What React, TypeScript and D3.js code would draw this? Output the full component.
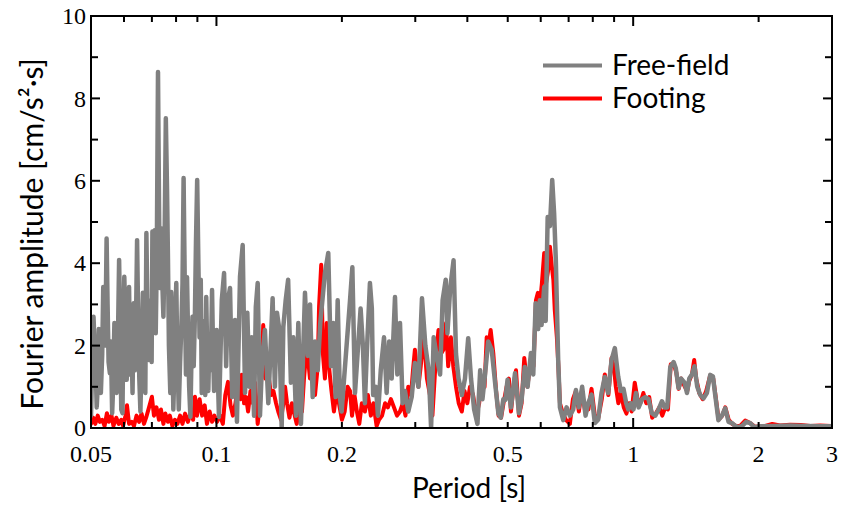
import React from 'react';
import * as d3 from 'd3';

const width = 843, height = 514;
const margin = { top: 16, right: 11, bottom: 86, left: 91 };

// Free-field spectrum
const freeFieldPeriod = [
  0.0500, 0.0504, 0.0507, 0.0510, 0.0513, 0.0516, 0.0519, 0.0522, 0.0525, 0.0528,
  0.0532, 0.0535, 0.0539, 0.0541, 0.0545, 0.0548, 0.0551, 0.0555, 0.0558, 0.0562,
  0.0565, 0.0569, 0.0572, 0.0576, 0.0580, 0.0584, 0.0588, 0.0591, 0.0595, 0.0598,
  0.0601, 0.0605, 0.0609, 0.0613, 0.0617, 0.0621, 0.0625, 0.0629, 0.0633, 0.0637,
  0.0641, 0.0645, 0.0649, 0.0653, 0.0657, 0.0662, 0.0666, 0.0671, 0.0675, 0.0679,
  0.0683, 0.0688, 0.0692, 0.0696, 0.0699, 0.0702, 0.0706, 0.0711, 0.0715, 0.0719,
  0.0724, 0.0728, 0.0731, 0.0736, 0.0740, 0.0746, 0.0750, 0.0756, 0.0761, 0.0765,
  0.0769, 0.0775, 0.0779, 0.0784, 0.0788, 0.0793, 0.0797, 0.0801, 0.0805, 0.0812,
  0.0818, 0.0824, 0.0829, 0.0834, 0.0840, 0.0845, 0.0850, 0.0855, 0.0860, 0.0866,
  0.0871, 0.0876, 0.0882, 0.0888, 0.0893, 0.0899, 0.0905, 0.0911, 0.0917, 0.0922,
  0.0929, 0.0935, 0.0940, 0.0945, 0.0950, 0.0956, 0.0962, 0.0969, 0.0976, 0.0981,
  0.0987, 0.0993,
  0.1001, 0.1014, 0.1030, 0.1043,
  0.1055, 0.1065, 0.1078, 0.1091, 0.1108, 0.1120, 0.1139, 0.1156, 0.1171, 0.1186,
  0.1200, 0.1215, 0.1231, 0.1243, 0.1256, 0.1272, 0.1288, 0.1307, 0.1332, 0.1364,
  0.1381, 0.1397, 0.1415, 0.1434, 0.1447, 0.1466, 0.1486, 0.1509, 0.1529, 0.1552,
  0.1572, 0.1595, 0.1631, 0.1656, 0.1677, 0.1702, 0.1724, 0.1750, 0.1775, 0.1821,
  0.1855, 0.1883, 0.1906, 0.1932, 0.1954, 0.1978, 0.1997, 0.2035, 0.2092, 0.2119,
  0.2150, 0.2181, 0.2218, 0.2246, 0.2271, 0.2297, 0.2335, 0.2360, 0.2377, 0.2414,
  0.2441, 0.2479, 0.2524, 0.2561, 0.2597, 0.2633, 0.2682, 0.2717, 0.2757, 0.2797,
  0.2834, 0.2886, 0.2941, 0.2994, 0.3052, 0.3113, 0.3172, 0.3231, 0.3274, 0.3321,
  0.3382, 0.3441, 0.3489, 0.3550, 0.3583, 0.3639, 0.3707, 0.3757, 0.3810, 0.3880,
  0.3948, 0.4019, 0.4082, 0.4153, 0.4230, 0.4294, 0.4348, 0.4411, 0.4488, 0.4576,
  0.4663, 0.4749, 0.4812, 0.4880, 0.4935, 0.4995, 0.5090, 0.5205, 0.5321, 0.5398,
  0.5494, 0.5580, 0.5685, 0.5758, 0.5834, 0.5917, 0.5971, 0.6028, 0.6117, 0.6166,
  0.6235, 0.6314, 0.6393, 0.6462, 0.6522, 0.6608, 0.6672, 0.6795, 0.6922, 0.7048,
  0.7180, 0.7288, 0.7408, 0.7543, 0.7688, 0.7799, 0.7944, 0.8091, 0.8241, 0.8395,
  0.8549, 0.8709, 0.8874, 0.9036, 0.9204, 0.9342, 0.9480, 0.9624, 0.9736, 0.9888,
  1.0017, 1.0156, 1.0307, 1.0504, 1.0695, 1.0884, 1.1089, 1.1299, 1.1510, 1.1726,
  1.1892, 1.2069, 1.2276, 1.2503, 1.2655, 1.2848, 1.3037, 1.3284, 1.3463, 1.3634,
  1.3836, 1.4032, 1.4248, 1.4488, 1.4752, 1.5026, 1.5308, 1.5538, 1.5735, 1.6017,
  1.6330, 1.6633, 1.6936, 1.7260, 1.7577, 1.7894, 1.8265, 1.8673, 1.9086, 1.9516,
  2.0173, 2.1908, 2.3809, 2.5862, 2.8088, 2.9855,
];
const freeFieldAmp = [
  0.30, 1.80, 2.70, 2.00, 1.50, 0.50, 1.00, 2.40, 2.20, 0.85,
  1.80, 3.42, 2.60, 2.00, 4.60, 3.00, 1.60, 1.33, 2.10, 0.36,
  1.00, 2.55, 1.50, 0.85, 2.00, 4.08, 2.20, 0.45, 0.36, 2.50,
  3.67, 2.50, 1.17, 2.60, 3.42, 1.30, 2.20, 0.85, 3.03, 1.40,
  2.50, 4.56, 2.60, 1.20, 0.40, 2.00, 3.28, 1.50, 0.85, 4.73,
  2.80, 1.65, 2.40, 3.10, 1.60, 4.77, 3.50, 4.80, 2.30, 4.00,
  8.64, 5.50, 3.40, 4.85, 3.80, 2.70, 4.00, 7.52, 5.80, 4.10,
  2.00, 0.85, 3.30, 2.00, 0.45, 1.50, 2.80, 3.52, 1.90, 0.45,
  1.60, 2.50, 3.50, 6.07, 3.20, 1.30, 3.66, 2.20, 1.00, 0.27,
  1.70, 2.70, 1.50, 2.80, 4.50, 6.02, 4.00, 2.20, 3.60, 0.85,
  1.40, 2.60, 0.80, 3.18, 1.90, 0.90, 2.20, 1.40, 3.35, 2.00,
  0.90, 1.65,
  2.38, 0.27, 3.10, 3.76,
  1.50, 3.10, 3.40, 0.75, 2.62, 0.15, 3.67, 4.44, 0.85, 2.80,
  1.00, 2.20, 0.30, 2.94, 3.52, 0.30, 1.72, 2.38, 0.60, 3.15,
  1.00, 2.80, 2.40, 0.00, 2.45, 3.10, 3.60, 1.10, 2.20, 0.30,
  2.55, 0.10, 3.28, 1.75, 3.00, 0.75, 2.10, 1.40, 2.55, 3.76,
  4.25, 1.50, 2.55, 0.75, 3.10, 0.75, 0.40, 1.50, 3.10, 3.90,
  0.85, 1.80, 2.90, 2.00, 0.60, 1.90, 3.52, 2.90, 0.80, 1.00,
  0.30, 1.40, 2.20, 0.85, 2.10, 1.20, 3.18, 1.30, 2.55, 0.60,
  0.90, 0.40, 0.75, 1.58, 1.00, 3.15, 2.00, 1.40, 0.00, 2.20,
  1.70, 1.30, 3.10, 3.60, 2.30, 3.40, 4.07, 1.80, 1.20, 0.80,
  1.20, 2.18, 1.20, 0.45, 0.10, 1.40, 0.70, 1.30, 2.10, 1.90,
  1.10, 0.35, 0.25, 0.70, 0.68, 1.17, 0.50, 1.33, 0.36, 0.68,
  1.48, 1.00, 1.82, 1.30, 3.03, 2.40, 3.10, 2.50, 3.42, 2.60,
  5.12, 4.90, 6.02, 5.20, 4.08, 1.65, 0.50, 0.19, 0.50, 0.30,
  0.45, 0.92, 0.50, 1.00, 0.30, 0.60, 0.81, 0.12, 0.20, 0.85,
  1.24, 0.85, 1.65, 1.94, 1.25, 0.90, 0.95, 0.60, 0.45, 0.60,
  0.45, 0.85, 0.50, 0.70, 0.75, 0.70, 0.36, 0.30, 0.45, 0.65,
  0.50, 0.50, 1.48, 1.60, 1.45, 0.97, 1.20, 1.10, 0.85, 1.20,
  1.30, 1.50, 1.00, 0.80, 0.72, 0.85, 1.29, 1.25, 0.80, 0.19,
  0.30, 0.48, 0.15, 0.12, 0.05, 0.02, 0.05, 0.15, 0.12, 0.02,
  0.04, 0.05, 0.06, 0.05, 0.04, 0.04,
];

// Footing spectrum
const footingPeriod = [
  0.0500, 0.0506, 0.0512, 0.0519, 0.0525, 0.0532, 0.0539, 0.0546, 0.0552, 0.0560,
  0.0566, 0.0575, 0.0583, 0.0591, 0.0597, 0.0605, 0.0610, 0.0617, 0.0626, 0.0634,
  0.0643, 0.0652, 0.0661, 0.0670, 0.0678, 0.0689, 0.0700, 0.0708, 0.0718, 0.0728,
  0.0736, 0.0746, 0.0754, 0.0765, 0.0773, 0.0784, 0.0795, 0.0806, 0.0818, 0.0829,
  0.0841, 0.0854, 0.0869, 0.0879, 0.0888, 0.0898, 0.0911, 0.0924, 0.0937, 0.0949,
  0.0963, 0.0976, 0.0989, 0.1003, 0.1020, 0.1036, 0.1050, 0.1066, 0.1081, 0.1095,
  0.1111, 0.1127, 0.1143, 0.1150, 0.1165, 0.1178, 0.1191, 0.1207, 0.1224, 0.1238,
  0.1256, 0.1272, 0.1285, 0.1295, 0.1311, 0.1332, 0.1353, 0.1370, 0.1390, 0.1407,
  0.1429, 0.1447, 0.1461, 0.1477, 0.1497, 0.1517, 0.1537, 0.1558, 0.1582, 0.1604,
  0.1622, 0.1647, 0.1677, 0.1700, 0.1724, 0.1750, 0.1763, 0.1784, 0.1801, 0.1821,
  0.1839, 0.1862, 0.1888, 0.1914, 0.1943, 0.1968, 0.2000, 0.2031, 0.2064, 0.2092,
  0.2115, 0.2144, 0.2173, 0.2202, 0.2233, 0.2271, 0.2309, 0.2347, 0.2380, 0.2423,
  0.2455, 0.2497, 0.2539, 0.2579, 0.2622, 0.2667, 0.2712, 0.2757, 0.2801, 0.2842,
  0.2886, 0.2930, 0.2962, 0.2994, 0.3052, 0.3092, 0.3142, 0.3200, 0.3254, 0.3298,
  0.3343, 0.3382, 0.3411, 0.3458, 0.3504, 0.3556, 0.3598, 0.3653, 0.3701, 0.3757,
  0.3814, 0.3880, 0.3938, 0.4000, 0.4059, 0.4129, 0.4200, 0.4270, 0.4333, 0.4399,
  0.4451, 0.4498, 0.4550, 0.4618, 0.4689, 0.4754, 0.4820, 0.4885, 0.4969, 0.5032,
  0.5090, 0.5176, 0.5234, 0.5321, 0.5398, 0.5479, 0.5574, 0.5685, 0.5765, 0.5844,
  0.5907, 0.5971, 0.6038, 0.6117, 0.6176, 0.6245, 0.6314, 0.6383, 0.6434, 0.6485,
  0.6560, 0.6615, 0.6672, 0.6783, 0.6896, 0.7048, 0.7168, 0.7288, 0.7408, 0.7530,
  0.7658, 0.7808, 0.7944, 0.8091, 0.8250, 0.8409, 0.8549, 0.8719, 0.8874, 0.8985,
  0.9087, 0.9214, 0.9342, 0.9495, 0.9635, 0.9775, 0.9916, 1.0087, 1.0242, 1.0401,
  1.0579, 1.0752, 1.0927, 1.1108, 1.1330, 1.1554, 1.1745, 1.1945, 1.2117, 1.2310,
  1.2517, 1.2690, 1.2862, 1.3037, 1.3299, 1.3485, 1.3634, 1.3836, 1.4008, 1.4168,
  1.4408, 1.4688, 1.4970, 1.5308, 1.5564, 1.5778, 1.6036, 1.6358, 1.6633, 1.6954,
  1.7289, 1.7673, 1.8061, 1.8570, 1.9086, 1.9624, 2.0751, 2.1561, 2.2509, 2.3809,
  2.5241, 2.6634, 2.8088, 2.9855,
];
const footingAmp = [
  0.10, 0.25, 0.10, 0.30, 0.15, 0.20, 0.05, 0.36, 0.15, 0.30,
  0.05, 0.25, 0.10, 0.20, 0.05, 0.30, 0.55, 0.10, 0.15, 0.05,
  0.30, 0.15, 0.35, 0.10, 0.25, 0.50, 0.76, 0.30, 0.50, 0.20,
  0.45, 0.10, 0.35, 0.15, 0.30, 0.05, 0.20, 0.10, 0.30, 0.10,
  0.35, 0.15, 0.40, 0.20, 0.76, 0.30, 0.70, 0.30, 0.55, 0.10,
  0.40, 0.15, 0.30, 0.15, 0.30, 0.10, 0.80, 1.12, 0.55, 0.30,
  0.60, 1.09, 0.70, 1.29, 0.60, 0.75, 0.40, 0.90, 0.60, 1.10,
  0.10, 0.60, 1.50, 2.50, 1.20, 1.30, 0.80, 0.90, 0.60, 0.40,
  0.20, 0.60, 1.00, 0.60, 0.25, 0.60, 0.35, 0.10, 0.60, 0.40,
  1.20, 1.97, 1.20, 1.40, 0.80, 1.50, 2.94, 3.96, 1.80, 1.20,
  2.55, 1.50, 0.90, 0.40, 0.90, 0.60, 0.20, 0.40, 1.00, 0.90,
  0.30, 0.80, 0.40, 0.10, 0.60, 0.40, 0.80, 0.30, 0.60, 0.05,
  0.20, 0.30, 0.60, 0.50, 0.70, 0.50, 0.30, 0.40, 0.60, 0.30,
  1.00, 0.80, 1.40, 1.90, 1.00, 1.50, 2.30, 1.20, 0.80, 0.30,
  1.30, 2.00, 2.38, 1.80, 1.90, 2.55, 1.50, 2.20, 1.50, 1.00,
  0.60, 0.40, 0.90, 0.60, 1.00, 0.80, 0.30, 0.60, 1.20, 1.00,
  2.20, 2.00, 2.38, 1.80, 0.90, 0.30, 0.25, 0.60, 1.00, 1.20,
  0.40, 1.10, 1.40, 0.30, 0.60, 1.70, 1.00, 1.70, 1.50, 3.10,
  3.28, 3.00, 3.50, 4.25, 3.50, 3.80, 4.40, 3.90, 3.60, 2.86,
  2.20, 1.50, 0.60, 0.35, 0.20, 0.10, 0.70, 0.90, 0.40, 0.90,
  0.45, 0.45, 0.95, 0.30, 0.25, 0.70, 1.30, 0.80, 1.70, 1.50,
  1.00, 0.60, 0.85, 0.50, 0.35, 0.60, 0.40, 1.10, 0.70, 0.60,
  0.85, 0.60, 0.75, 0.25, 0.35, 0.50, 0.30, 0.50, 0.45, 1.55,
  1.55, 1.35, 0.95, 1.20, 1.00, 0.90, 1.15, 1.30, 1.65, 1.20,
  0.85, 0.70, 0.90, 1.28, 1.20, 0.75, 0.20, 0.30, 0.50, 0.20,
  0.10, 0.05, 0.05, 0.18, 0.12, 0.03, 0.05, 0.10, 0.06, 0.08,
  0.07, 0.05, 0.06, 0.05,
];

const xTickValues = [0.05, 0.06, 0.07, 0.08, 0.09, 0.1, 0.2, 0.3, 0.4, 0.5, 0.6, 0.7, 0.8, 0.9, 1, 2, 3];
const xLongTicks = [0.1, 1];
const xLabelValues = [0.05, 0.1, 0.2, 0.5, 1, 2, 3];
const yTickValues = [0, 1, 2, 3, 4, 5, 6, 7, 8, 9, 10];
const yLabelValues = [0, 2, 4, 6, 8, 10];

const seriesNames = ['Free-field', 'Footing'];
const seriesColors = ['#808080', '#ff0000'];

const tickFont = '"Liberation Serif", "DejaVu Serif", serif';
const titleFont = 'Lato, "Open Sans", sans-serif';

export default function App() {
  const x = d3.scaleLog().domain([0.05, 3]).range([margin.left, width - margin.right]);
  const y = d3.scaleLinear().domain([0, 10]).range([height - margin.bottom, margin.top]);
  const x0 = margin.left, x1 = width - margin.right;
  const y0 = height - margin.bottom, y1 = margin.top;

  const line = d3.line<[number, number]>()
    .x(d => x(d[0]))
    .y(d => y(d[1]));

  const freeField = freeFieldPeriod.map((p, i) => [p, freeFieldAmp[i]] as [number, number]);
  const footing = footingPeriod.map((p, i) => [p, footingAmp[i]] as [number, number]);

  return (
    <svg width={width} height={height} style={{ position: 'absolute', left: 0, top: 0, background: '#fff' }}>
      <defs>
        <clipPath id="plot">
          <rect x={x0} y={y1 - 4} width={x1 - x0} height={y0 - y1 + 4} />
        </clipPath>
      </defs>

      <g clipPath="url(#plot)" fill="none" strokeLinejoin="round" strokeLinecap="round">
        <path d={line(footing) || ''} stroke={seriesColors[1]} strokeWidth={4} />
        <path d={line(freeField) || ''} stroke={seriesColors[0]} strokeWidth={4.5} />
      </g>

      {/* frame */}
      <rect x={x0} y={y1} width={x1 - x0} height={y0 - y1} fill="none" stroke="#000" strokeWidth={2} />

      {/* x ticks, inward on top and bottom */}
      {xTickValues.map(v => {
        const len = xLongTicks.includes(v) ? 10 : 6;
        return (
          <g key={'xt' + v} stroke="#000" strokeWidth={2}>
            <line x1={x(v)} x2={x(v)} y1={y0} y2={y0 - len} />
            <line x1={x(v)} x2={x(v)} y1={y1} y2={y1 + len} />
          </g>
        );
      })}
      {xLabelValues.map(v => (
        <text key={'xl' + v} x={x(v)} y={462} textAnchor="middle" fontFamily={tickFont} fontSize={24}>
          {String(v)}
        </text>
      ))}

      {/* y ticks, inward on left and right */}
      {yTickValues.map(v => {
        const len = v % 2 === 0 ? 9 : 7;
        return (
          <g key={'yt' + v} stroke="#000" strokeWidth={2}>
            <line x1={x0} x2={x0 + len} y1={y(v)} y2={y(v)} />
            <line x1={x1} x2={x1 - len} y1={y(v)} y2={y(v)} />
          </g>
        );
      })}
      {yLabelValues.map(v => (
        <text key={'yl' + v} x={86} y={y(v)} dy="0.34em" textAnchor="end" fontFamily={tickFont} fontSize={24}>
          {String(v)}
        </text>
      ))}

      {/* axis titles */}
      <text x={469} y={498} textAnchor="middle" fontFamily={titleFont} fontSize={28}>Period [s]</text>
      <text transform="translate(43,234) rotate(-90)" textAnchor="middle" fontFamily={titleFont} fontSize={30}>
        Fourier amplitude [cm/s²·s]
      </text>

      {/* legend */}
      {seriesNames.map((name, i) => (
        <g key={name} transform={`translate(0, ${65.5 + i * 33})`}>
          <line x1={543} x2={602} y1={0} y2={0} stroke={seriesColors[i]} strokeWidth={4} />
          <text x={612} y={0} dy="0.34em" fontFamily={titleFont} fontSize={28}>{name}</text>
        </g>
      ))}
    </svg>
  );
}
